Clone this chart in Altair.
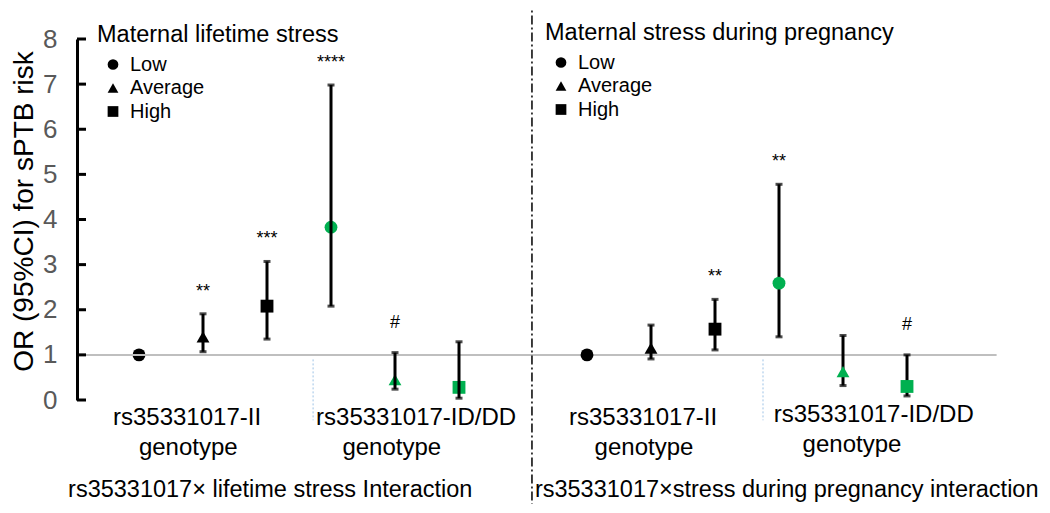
import altair as alt
import pandas as pd

FONT = "Liberation Sans"

# ---------------- data ----------------
slots = [0, 1, 2, 3, 4, 5, 7, 8, 9, 10, 11, 12]
panel = ["lifetime"] * 6 + ["pregnancy"] * 6
genotype = ["II", "II", "II", "ID/DD", "ID/DD", "ID/DD"] * 2
stress = ["Low", "Average", "High"] * 4
odds = [1.00, 1.40, 2.08, 3.83, 0.45, 0.28, 1.00, 1.15, 1.57, 2.59, 0.63, 0.30]
ci_lo = [None, 1.07, 1.35, 2.08, 0.24, 0.04, None, 0.91, 1.11, 1.40, 0.32, 0.09]
ci_hi = [None, 1.91, 3.07, 6.98, 1.05, 1.29, None, 1.66, 2.23, 4.78, 1.43, 1.00]
sig = ["", "**", "***", "****", "#", "", "", "", "**", "**", "", "#"]

y_ticks = [0, 1, 2, 3, 4, 5, 6, 7, 8]
stress_levels = ["Low", "Average", "High"]
legend_titles = ["Maternal lifetime stress", "Maternal stress during pregnancy"]

cat_text = ["rs35331017-II", "genotype", "rs35331017-ID/DD", "genotype",
            "rs35331017-II", "genotype", "rs35331017-ID/DD", "genotype"]
interaction_text = ["rs35331017\u00d7 lifetime stress Interaction",
                    "rs35331017\u00d7stress during pregnancy interaction"]

# ---------------- layout (positions in axis units) ----------------
XDOM = [-0.96875, 14.078]
cat_x = [0.75, 0.77, 4.33, 3.95, 7.875, 7.89, 11.48, 11.14]
cat_y = [-0.40, -1.06, -0.40, -1.06, -0.40, -1.06, -0.33, -1.00]
inter_x = [2.05, 10.12]
inter_y = [-1.99, -1.99]

df = pd.DataFrame(dict(slot=slots, panel=panel, genotype=genotype, stress=stress,
                       odds=odds, lo=ci_lo, hi=ci_hi, sig=sig))
ci = df.dropna(subset=["lo"])

xs = alt.Scale(domain=XDOM, nice=False, zero=False)
ys = alt.Scale(domain=[0, 8], nice=False, zero=False)


def X(f):
    return alt.X(f, scale=xs, axis=None)


def Y(f):
    return alt.Y(f, scale=ys, axis=None)


# reference line at OR = 1
ref = alt.Chart(pd.DataFrame({"x1": [XDOM[0]], "x2": [13.4], "y": [1.0]})).mark_rule(
    color="#BFBFBF", strokeWidth=2
).encode(x=X("x1:Q"), x2="x2:Q", y=Y("y:Q"))

# dash-dot separator
sep = alt.Chart(pd.DataFrame({"x": [6.14], "y1": [8.9], "y2": [-2.6]})).mark_rule(
    color="black", strokeWidth=1.5, strokeDash=[9, 3, 2, 3]
).encode(x=X("x:Q"), y=Y("y1:Q"), y2="y2:Q")

# light blue dotted dividers between genotypes
blue = alt.Chart(pd.DataFrame({"x": [2.72, 9.75], "y1": [0.9, 0.9], "y2": [-0.45, -0.45]})).mark_rule(
    color="#9DC3E6", strokeWidth=1, strokeDash=[2, 2]
).encode(x=X("x:Q"), y=Y("y1:Q"), y2="y2:Q")

# inward y-axis ticks
ticks = alt.Chart(pd.DataFrame({"t": y_ticks})).mark_rule(color="black", strokeWidth=3).encode(
    y=Y("t:Q"), x=alt.value(0), x2=alt.value(9)
)

bars = alt.Chart(ci).mark_rule(color="black", strokeWidth=3).encode(
    x=X("slot:Q"), y=Y("lo:Q"), y2="hi:Q"
)
cap_lo = alt.Chart(ci).mark_tick(orient="horizontal", size=7, thickness=3, color="black").encode(
    x=X("slot:Q"), y=Y("lo:Q")
)
cap_hi = alt.Chart(ci).mark_tick(orient="horizontal", size=7, thickness=3, color="black").encode(
    x=X("slot:Q"), y=Y("hi:Q")
)

color_enc = alt.Color("genotype:N", scale=alt.Scale(domain=["II", "ID/DD"], range=["black", "#00B050"]),
                      legend=None)

leg_common = dict(
    orient="none", titleFontSize=23.5, titleFontWeight="normal", titleColor="black", titleFont=FONT,
    titleLimit=600, labelFont=FONT, labelFontSize=20, labelColor="black", symbolSize=115,
    symbolFillColor="black", symbolStrokeColor="black", symbolStrokeWidth=0, rowPadding=3.5,
    titlePadding=8, labelOffset=7, symbolOffset=6, padding=0,
)


def points(panel_name, title, lx, ly, with_axis):
    yenc = alt.Y(
        "odds:Q", scale=ys,
        axis=alt.Axis(
            values=y_ticks, ticks=False, tickSize=0, grid=False, domainColor="black", domainWidth=3,
            labelFontSize=26, labelColor="#595959", labelPadding=20, labelFont=FONT,
            title="OR (95%CI) for sPTB risk", titleFont=FONT, titleFontSize=28, titleFontWeight="normal",
            titleColor="black", titleX=-45, titleY=172, titleAngle=270, titleAlign="center",
            titleBaseline="alphabetic",
        ) if with_axis else None,
    )
    return alt.Chart(df[df.panel == panel_name]).mark_point(filled=True, opacity=1, size=165).encode(
        x=X("slot:Q"),
        y=yenc,
        color=color_enc,
        shape=alt.Shape(
            "stress:N",
            scale=alt.Scale(domain=stress_levels, range=["circle", "triangle-up", "square"]),
            legend=alt.Legend(title=title, legendX=lx, legendY=ly, **leg_common),
        ),
    )


pts_left = points("lifetime", legend_titles[0], 20, -16, True)
pts_right = points("pregnancy", legend_titles[1], 468, -18, False)

stars = alt.Chart(df[df.sig.str.startswith("*")]).mark_text(
    font=FONT, fontSize=18, baseline="alphabetic", dy=-17, color="black"
).encode(x=X("slot:Q"), y=Y("hi:Q"), text="sig:N")
hashes = alt.Chart(df[df.sig == "#"]).mark_text(
    font=FONT, fontSize=18, baseline="alphabetic", dy=-25, color="black"
).encode(x=X("slot:Q"), y=Y("hi:Q"), text="sig:N")

cats = alt.Chart(pd.DataFrame({"x": cat_x, "y": cat_y, "t": cat_text})).mark_text(
    font=FONT, fontSize=24, color="black", align="center", baseline="middle"
).encode(x=X("x:Q"), y=Y("y:Q"), text="t:N")

inter = alt.Chart(pd.DataFrame({"x": inter_x, "y": inter_y, "t": interaction_text})).mark_text(
    font=FONT, fontSize=23.5, color="black", align="center", baseline="middle"
).encode(x=X("x:Q"), y=Y("y:Q"), text="t:N")

chart = alt.layer(
    pts_left, ref, sep, blue, ticks, bars, cap_lo, cap_hi, pts_right, stars, hashes, cats, inter
).resolve_scale(shape="independent").resolve_axis(y="independent", x="independent").properties(
    width=963, height=361, autosize="none",
    padding={"left": 69, "top": 31, "right": 2, "bottom": 104},
).configure(font=FONT).configure_view(stroke=None, fill=None)

chart.save("out.html", embed_options={"renderer": "svg", "actions": False})
